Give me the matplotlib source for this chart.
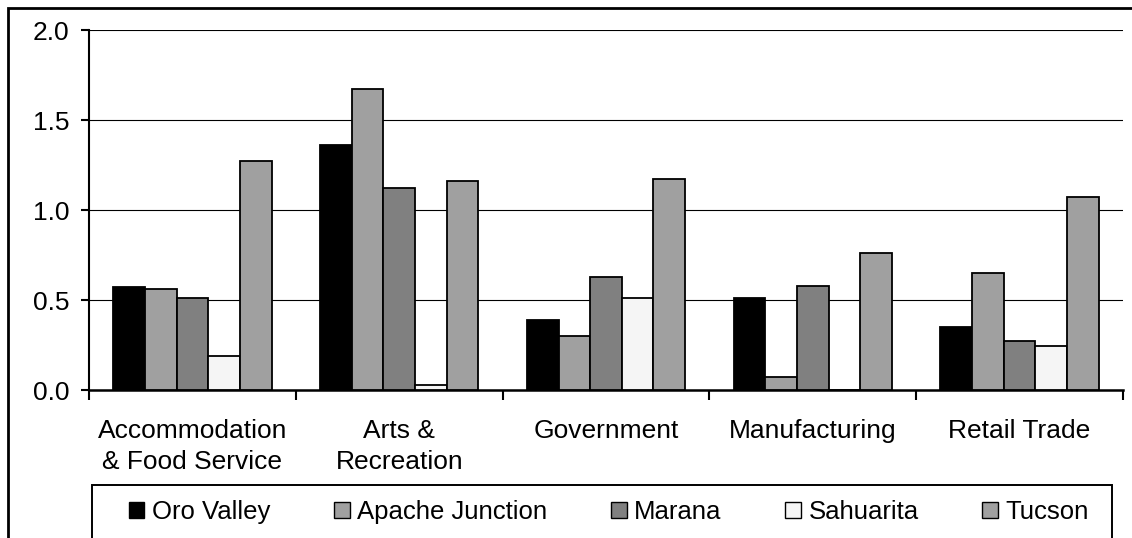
import numpy as np
import matplotlib
matplotlib.use("Agg")
import matplotlib.pyplot as plt
from matplotlib.patches import Rectangle

plt.rcParams['font.family'] = ['Liberation Sans', 'DejaVu Sans']

categories = ["Accommodation\n& Food Service", "Arts &\nRecreation", "Government",
              "Manufacturing", "Retail Trade"]
series_names = ["Oro Valley", "Apache Junction", "Marana", "Sahuarita", "Tucson"]
oro_valley = [0.57, 1.36, 0.39, 0.51, 0.35]
apache_junction = [0.56, 1.67, 0.30, 0.07, 0.65]
marana = [0.51, 1.12, 0.63, 0.58, 0.27]
sahuarita = [0.19, 0.03, 0.51, 0.0, 0.245]
tucson = [1.27, 1.16, 1.17, 0.76, 1.07]
series_values = [oro_valley, apache_junction, marana, sahuarita, tucson]
colors = ["#000000", "#A0A0A0", "#808080", "#F5F5F5", "#A0A0A0"]
yticks = [0.0, 0.5, 1.0, 1.5, 2.0]

W, H = 1132, 538
FS = 19
fig = plt.figure(figsize=(W / 100, H / 100), dpi=100)

# outer chart frame
fig.patches.append(Rectangle((8 / W, -0.2), 1.5, 1.2 - 8 / H, transform=fig.transFigure,
                             fill=False, edgecolor='black', linewidth=2.0, zorder=0))

ax = fig.add_axes([89 / W, 1 - 390 / H, (1123 - 89) / W, (390 - 30) / H])
ax.patch.set_alpha(0)

x = np.arange(len(categories))
bw = 0.153
n = len(series_names)
for i, (name, vals, c) in enumerate(zip(series_names, series_values, colors)):
    ax.bar(x + (i - (n - 1) / 2) * bw, vals, width=bw, color=c, edgecolor='black',
           linewidth=1.3, label=name, zorder=3)

ax.set_xlim(-0.5, len(categories) - 0.5)
ax.set_ylim(0, 2.0)
ax.set_yticks(yticks)
ax.set_yticklabels([f"{v:.1f}" for v in yticks])
ax.yaxis.grid(True, color='black', linewidth=0.8)
ax.set_axisbelow(True)

ax.set_xticks(x)
ax.set_xticklabels(categories, linespacing=1.38)
ax.set_xticks(np.arange(len(categories) + 1) - 0.5, minor=True)
ax.tick_params(axis='x', which='major', length=0, pad=21, labelsize=FS)
ax.tick_params(axis='x', which='minor', length=7, width=1.5, direction='out')
ax.tick_params(axis='y', length=6, width=1.5, direction='out', pad=8, labelsize=FS)

for s in ['top', 'right']:
    ax.spines[s].set_visible(False)
ax.spines['left'].set_linewidth(1.5)
ax.spines['bottom'].set_linewidth(1.8)

# legend frame
fig.patches.append(Rectangle((92 / W, -0.2), (1112 - 92) / W, 0.2 + 1 - 485 / H,
                             transform=fig.transFigure, fill=False, edgecolor='black',
                             linewidth=1.4, zorder=1))

handles, labels = ax.get_legend_handles_labels()
leg = fig.legend(handles, labels, loc='center left', bbox_to_anchor=(129 / W, 1 - 512 / H),
                 ncol=5, frameon=False, fontsize=18.5, handlelength=0.6, handleheight=0.6,
                 handletextpad=0.3, columnspacing=2.48, borderpad=0, borderaxespad=0)
for h in leg.legend_handles:
    h.set_linewidth(1.0)

fig.savefig("out.png", dpi=100)
